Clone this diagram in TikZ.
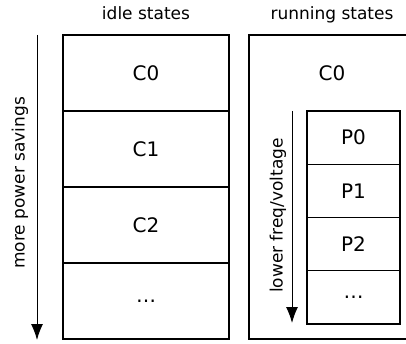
\documentclass[tikz,border=0pt]{standalone}
\usepackage{fontspec}
\setmainfont{DejaVu Sans}
\usetikzlibrary{arrows.meta,positioning}

\begin{document}
\begin{tikzpicture}[x=1pt, y=1pt, >={Latex[length=16pt,width=12pt]},
    font=\fontsize{17}{20}\selectfont,
    statefont/.style={font=\fontsize{20}{24}\selectfont},
    state/.style={draw, statefont, line width=1.1pt, outer sep=0pt, minimum width=166pt, minimum height=76pt},
    pstate/.style={draw, statefont, line width=1.1pt, outer sep=0pt, minimum width=93pt, minimum height=53.25pt},
    heading/.style={anchor=base}]
  \useasboundingbox (0,0) rectangle (406,343);
  % idle states, one box per C-state
  \node[state, anchor=north west] (c0) at (63,308) {C0};
  \node[state, below=0pt of c0] (c1) {C1};
  \node[state, below=0pt of c1] (c2) {C2};
  \node[state, below=0pt of c2] (cdots) {\dots};
  \node[heading] (idle) at (146,323.5) {idle states};
  \draw[->, line width=1pt] ([xshift=-26pt]c0.north west) -- ([xshift=-26pt, yshift=-1pt]cdots.south west);
  \node[rotate=90] (savings) at (20,160) {more power savings};
  % running states: C0 split into P-states
  \node[state, anchor=north west, minimum height=304pt] (run) at (249,308) {};
  \node[statefont] (rc0) at (332,270) {C0};
  \node[heading] (running) at (332,323.5) {running states};
  \node[pstate, anchor=north west] (p0) at (307,232) {P0};
  \node[pstate, below=0pt of p0] (p1) {P1};
  \node[pstate, below=0pt of p1] (p2) {P2};
  \node[pstate, below=0pt of p2] (pdots) {\dots};
  \draw[->, line width=1pt] ([xshift=-15pt]p0.north west) -- ([xshift=-15pt, yshift=1pt]pdots.south west);
  \node[rotate=90] (freq) at (278,127.5) {lower freq/voltage};
\end{tikzpicture}
\end{document}
